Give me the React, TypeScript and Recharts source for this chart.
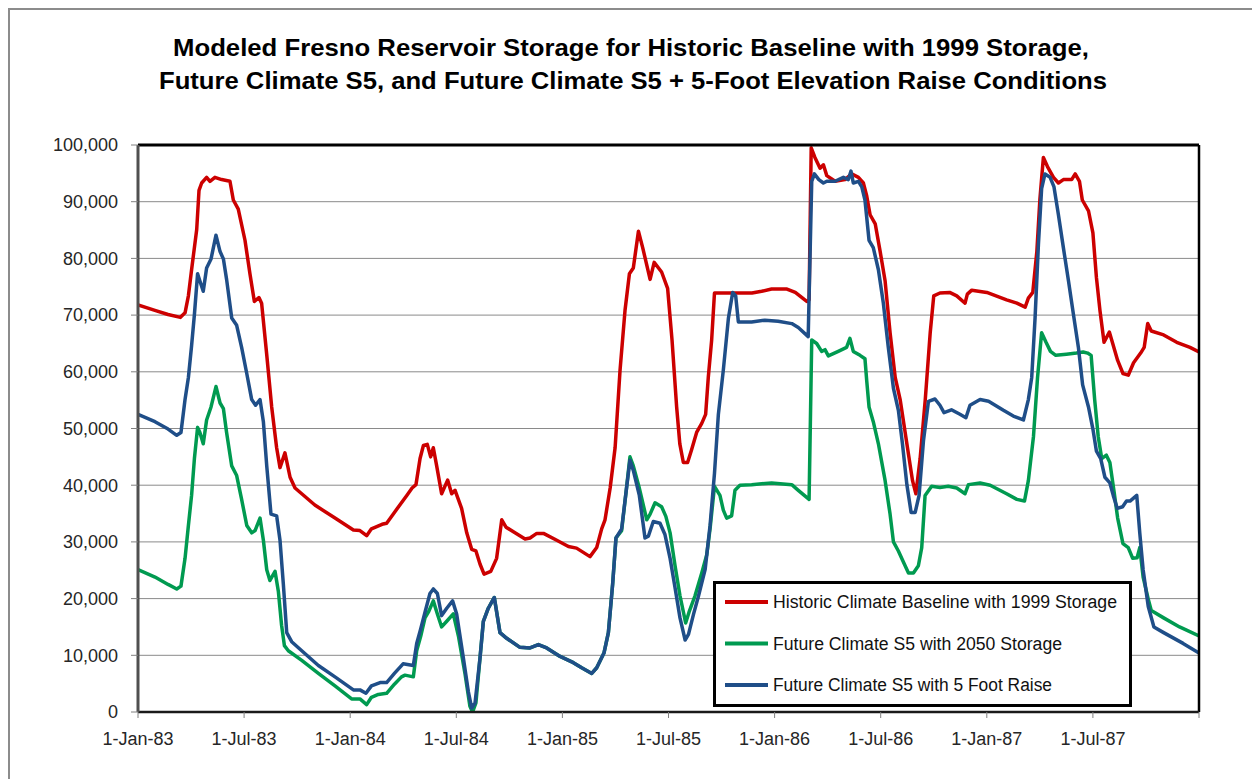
import React from 'react';
import { LineChart, Line, XAxis, YAxis, CartesianGrid, ReferenceLine, Legend } from 'recharts';

const FONT = '"Liberation Sans", Arial, Helvetica, sans-serif';

const titleLines = [
  'Modeled Fresno Reservoir Storage for Historic Baseline with 1999 Storage,',
  'Future Climate S5, and Future Climate S5 + 5-Foot Elevation Raise Conditions',
];

const seriesNames = [
  'Historic Climate Baseline with 1999 Storage',
  'Future Climate S5 with 2050 Storage',
  'Future Climate S5 with 5 Foot Raise',
];
const seriesColors = ['#CC0000', '#009A50', '#1F4E88'];

// x = months since 1-Jan-83
const xTickMonths = [0, 6, 12, 18, 24, 30, 36, 42, 48, 54, 60];
const xTickLabels = [
  '1-Jan-83', '1-Jul-83', '1-Jan-84', '1-Jul-84', '1-Jan-85', '1-Jul-85',
  '1-Jan-86', '1-Jul-86', '1-Jan-87', '1-Jul-87', '',
];
const yTicks = [0, 10000, 20000, 30000, 40000, 50000, 60000, 70000, 80000, 90000, 100000];

// [month since 1-Jan-83, storage in thousand acre-feet]
const historicBaseline: [number, number][] = [
  [0, 71.8], [1, 70.8], [1.7, 70.1], [2.4, 69.6], [2.66, 70.4], [2.85, 73.4], [3.03, 78], [3.32, 85.1],
  [3.45, 92], [3.6, 93.3], [3.88, 94.3], [4.07, 93.6], [4.35, 94.3], [4.73, 93.9], [5.2, 93.6], [5.39, 90.3],
  [5.67, 88.7], [6.05, 83.2], [6.33, 77.3], [6.58, 72.4], [6.84, 73.1], [6.99, 72.1], [7.28, 63], [7.56, 53.8],
  [7.84, 46.6], [8.03, 43.1], [8.31, 45.7], [8.6, 41.4], [8.88, 39.5], [10.0, 36.5], [11.14, 34.2], [12.18, 32.1],
  [12.55, 32], [12.93, 31.1], [13.2, 32.3], [13.8, 33.1], [14.06, 33.3], [14.5, 35.2], [15.2, 38.2], [15.5, 39.5],
  [15.72, 40.1], [15.95, 44.7], [16.14, 47], [16.36, 47.2], [16.55, 45], [16.7, 46.6], [16.89, 43.4], [17.17, 38.5],
  [17.51, 40.9], [17.74, 38.5], [17.93, 39.1], [18.3, 35.9], [18.59, 31.6], [18.87, 28.7], [19.11, 28.4], [19.34, 26.1],
  [19.57, 24.3], [19.95, 24.8], [20.28, 27.1], [20.57, 33.9], [20.81, 32.6], [21.32, 31.6], [21.89, 30.5], [22.17, 30.7],
  [22.55, 31.5], [22.93, 31.5], [23.68, 30.3], [24.34, 29.2], [24.8, 28.9], [25.56, 27.4], [25.94, 29], [26.22, 32.3],
  [26.41, 33.9], [26.7, 39.5], [26.98, 46.6], [27.26, 60.3], [27.54, 70.8], [27.79, 77.3], [28.01, 78.3], [28.3, 84.8],
  [28.54, 81.9], [28.96, 76.3], [29.19, 79.3], [29.61, 77.6], [29.95, 74.7], [30.2, 65.6], [30.46, 53.8], [30.64, 47.3],
  [30.84, 44], [31.08, 44], [31.31, 46.3], [31.59, 49.3], [31.88, 50.9], [32.1, 52.5], [32.25, 59], [32.44, 65.6],
  [32.6, 73.9], [33.57, 73.9], [34.72, 73.9], [35.27, 74.2], [35.83, 74.6], [36.7, 74.6], [37.17, 74], [37.82, 72.4],
  [37.95, 72.7], [38.07, 99.5], [38.28, 97.8], [38.57, 95.9], [38.76, 96.5], [38.95, 94.6], [39.42, 93.6], [39.98, 93.9],
  [40.36, 94.9], [40.74, 94.3], [41.02, 93.3], [41.21, 91], [41.4, 87.7], [41.69, 86.1], [41.97, 81.2], [42.25, 76],
  [42.53, 66.9], [42.82, 59], [43.1, 55.1], [43.48, 47.3], [43.8, 40.8], [43.99, 38.5], [44.23, 44.7], [44.52, 55.1],
  [44.8, 66.9], [45.0, 73.4], [45.35, 73.9], [45.9, 74], [46.3, 73.4], [46.77, 72.1], [46.9, 73.7], [47.15, 74.4],
  [48, 74], [49.12, 72.7], [49.7, 72.1], [50.17, 71.4], [50.35, 73], [50.6, 74], [50.83, 81.2], [51.0, 90.3],
  [51.2, 97.8], [51.43, 96.2], [51.77, 94.3], [52.05, 93.3], [52.33, 93.9], [52.8, 93.9], [53.0, 94.9], [53.24, 93.6],
  [53.4, 90.3], [53.75, 88.4], [54.0, 84.5], [54.2, 76.6], [54.4, 70.8], [54.63, 65.2], [54.93, 67], [55.1, 65.2],
  [55.4, 62], [55.7, 59.7], [56.0, 59.4], [56.3, 61.6], [56.7, 63.3], [56.9, 64.3], [57.1, 68.5], [57.3, 67.2],
  [58.0, 66.5], [58.74, 65.2], [59.49, 64.3], [60, 63.5],
];

const futureS5Storage2050: [number, number][] = [
  [0, 25.1], [0.96, 23.8], [1.7, 22.5], [2.19, 21.7], [2.43, 22.2], [2.66, 27.1], [2.85, 32.9], [3.03, 38.2],
  [3.19, 44.7], [3.37, 50.2], [3.5, 49.3], [3.69, 47.3], [3.88, 51.5], [4.13, 53.8], [4.41, 57.4], [4.64, 54.5],
  [4.83, 53.5], [5.01, 49.3], [5.3, 43.4], [5.58, 41.7], [5.86, 37.5], [6.15, 32.9], [6.43, 31.6], [6.62, 32],
  [6.9, 34.2], [7.09, 30.3], [7.28, 25.1], [7.46, 23.2], [7.75, 24.8], [7.94, 21.2], [8.12, 15.3], [8.28, 11.7],
  [8.5, 10.8], [9.26, 9.1], [10.2, 6.8], [11.14, 4.6], [12.08, 2.3], [12.55, 2.3], [12.93, 1.3], [13.2, 2.6],
  [13.59, 3.1], [14.06, 3.3], [14.5, 4.9], [14.9, 6.2], [15.1, 6.5], [15.57, 6.2], [15.76, 10.8], [15.99, 13.4],
  [16.23, 16.6], [16.42, 17.6], [16.7, 19.6], [16.93, 17.3], [17.17, 15], [17.46, 16], [17.83, 17.3], [18.12, 13.4],
  [18.49, 6.8], [18.77, 1.0], [18.92, 0], [19.11, 1.6], [19.34, 9.5], [19.53, 16], [19.81, 18.3], [20.15, 20.2],
  [20.47, 14], [20.85, 13], [21.6, 11.4], [22.17, 11.3], [22.64, 11.9], [23.11, 11.3], [23.87, 9.8], [24.62, 8.7],
  [25.09, 7.8], [25.66, 6.8], [25.94, 7.8], [26.35, 10.4], [26.6, 14], [26.84, 22.5], [27.03, 30.7], [27.35, 32],
  [27.6, 38.8], [27.82, 45], [28.01, 43.4], [28.35, 39.5], [28.77, 33.9], [28.96, 34.9], [29.24, 36.9], [29.61, 36.2],
  [29.85, 34.5], [30.09, 31.6], [30.37, 25.8], [30.65, 20.5], [30.97, 15.7], [31.16, 17.6], [31.5, 20.5], [31.88, 24.5],
  [32.16, 27.7], [32.35, 32.3], [32.6, 39.8], [32.91, 38.2], [33.1, 35.6], [33.29, 34.2], [33.57, 34.6], [33.76, 39.1],
  [34.04, 40], [34.7, 40.1], [35.83, 40.4], [36.97, 40.1], [37.34, 39.1], [37.95, 37.5], [38.1, 65.6], [38.38, 65],
  [38.66, 63.6], [38.85, 63.9], [39.04, 62.8], [39.6, 63.6], [40.07, 64.3], [40.26, 65.9], [40.45, 63.6], [40.83, 62.9],
  [41.11, 62.3], [41.21, 58.4], [41.34, 53.8], [41.58, 51.2], [41.87, 47.3], [42.25, 40.8], [42.53, 34.9], [42.72, 30],
  [43, 28.4], [43.29, 26.4], [43.57, 24.5], [43.85, 24.5], [44.13, 25.8], [44.32, 29], [44.51, 38.2], [44.88, 39.8],
  [45.35, 39.6], [45.82, 39.8], [46.3, 39.5], [46.77, 38.5], [46.96, 40.1], [47.62, 40.4], [48.19, 40], [49.12, 38.5],
  [49.7, 37.5], [50.13, 37.2], [50.35, 40.8], [50.64, 48.6], [50.87, 59], [51.1, 66.9], [51.35, 65.2], [51.6, 63.6],
  [51.9, 62.9], [52.5, 63.1], [53.07, 63.3], [53.45, 63.5], [53.7, 63.3], [53.9, 62.9], [54.1, 55.1], [54.3, 48.6],
  [54.5, 44.7], [54.76, 45.3], [54.96, 44], [55.2, 38.8], [55.4, 34.2], [55.7, 29.7], [56.0, 29], [56.25, 27.1],
  [56.5, 27.2], [56.65, 29], [56.84, 23.8], [57.13, 19.9], [57.3, 17.9], [58.0, 16.6], [58.9, 15], [60, 13.4],
];

const futureS5FootRaise: [number, number][] = [
  [0, 52.5], [0.96, 51.2], [1.7, 49.9], [2.19, 48.8], [2.43, 49.3], [2.66, 55.1], [2.85, 59], [3.03, 64.6],
  [3.19, 70.1], [3.37, 77.3], [3.5, 76], [3.69, 74.2], [3.88, 78.3], [4.13, 79.9], [4.41, 84.1], [4.64, 81.2],
  [4.83, 79.9], [5.01, 76.3], [5.3, 69.5], [5.58, 68.2], [5.86, 64.3], [6.15, 59.7], [6.43, 55.1], [6.65, 54.1],
  [6.9, 55.1], [7.09, 51.2], [7.28, 43.4], [7.52, 34.9], [7.84, 34.6], [8.03, 30.3], [8.22, 22.5], [8.41, 14],
  [8.69, 12.4], [9.26, 10.8], [10.2, 8.2], [11.14, 6.2], [12.18, 3.9], [12.55, 3.9], [12.89, 3.3], [13.2, 4.6],
  [13.69, 5.2], [14.06, 5.2], [14.5, 6.8], [14.99, 8.5], [15.57, 8.2], [15.76, 12.1], [15.99, 14.7], [16.23, 17.6],
  [16.51, 20.9], [16.7, 21.7], [16.93, 20.9], [17.17, 17], [17.46, 18.3], [17.79, 19.6], [18.02, 17.3], [18.4, 9.5],
  [18.68, 3.6], [18.87, 0.7], [19.06, 1.6], [19.34, 9.5], [19.53, 16], [19.81, 18.3], [20.15, 20.2], [20.47, 14],
  [20.85, 13], [21.6, 11.4], [22.17, 11.3], [22.64, 11.9], [23.11, 11.3], [23.87, 9.8], [24.62, 8.7], [25.09, 7.8],
  [25.66, 6.8], [25.94, 7.8], [26.35, 10.4], [26.6, 14], [26.84, 22.5], [27.03, 30.7], [27.35, 32.3], [27.6, 38.8],
  [27.82, 44.4], [28.01, 42.6], [28.35, 38.2], [28.67, 30.7], [28.86, 31], [29.14, 33.6], [29.52, 33.3], [29.8, 31.3],
  [30.09, 27.1], [30.37, 21.9], [30.65, 16.6], [30.94, 12.7], [31.13, 13.7], [31.42, 17.3], [31.7, 20.5], [32.07, 25.1],
  [32.35, 32.9], [32.6, 42.1], [32.82, 52.5], [33.1, 60.3], [33.39, 69.5], [33.63, 74], [33.8, 73.4], [33.95, 68.8],
  [34.7, 68.8], [35.45, 69.1], [36.2, 68.9], [36.97, 68.5], [37.34, 67.8], [37.9, 66.2], [38.1, 93.6], [38.25, 94.9],
  [38.5, 93.9], [38.76, 93.3], [38.95, 93.6], [39.42, 93.6], [39.89, 94.3], [40.17, 93.9], [40.32, 95.4], [40.45, 93.3],
  [40.74, 93.6], [40.93, 92.6], [41.11, 90.3], [41.34, 83.2], [41.58, 81.9], [41.87, 78], [42.15, 72.1], [42.43, 64.3],
  [42.72, 57.1], [43, 53.2], [43.23, 47.3], [43.48, 40.1], [43.72, 35.2], [43.95, 35.2], [44.17, 38.2], [44.42, 47.9],
  [44.7, 54.8], [45.07, 55.2], [45.35, 54.1], [45.58, 52.8], [46.0, 53.3], [46.48, 52.5], [46.82, 51.9], [47.05, 54.1],
  [47.62, 55.1], [48.1, 54.8], [48.94, 53.2], [49.5, 52.2], [50.07, 51.5], [50.35, 55.1], [50.54, 59], [50.73, 69.5],
  [50.92, 82.5], [51.1, 92.3], [51.29, 94.9], [51.58, 94.3], [51.8, 92.6], [52.05, 87.7], [52.33, 81.9], [52.62, 76],
  [52.9, 70.1], [53.18, 64.3], [53.42, 57.7], [53.75, 53.8], [54.0, 49.9], [54.2, 46], [54.44, 44.7], [54.68, 41.4],
  [54.96, 40.4], [55.15, 38.2], [55.38, 35.9], [55.68, 36.2], [55.9, 37.2], [56.1, 37.2], [56.48, 38.2], [56.65, 31.6],
  [56.84, 25.1], [57.13, 18.6], [57.45, 15], [58.0, 14], [59.1, 12.1], [60, 10.4],
];

const toPoints = (s: [number, number][]) => s.map(([m, v]) => ({ month: m, storage: Math.round(v * 1000) }));
const seriesData = [toPoints(historicBaseline), toPoints(futureS5Storage2050), toPoints(futureS5FootRaise)];

const legendTextWidths = [344, 289, 279];

function LegendBox(props: any) {
  const payload: any[] = props.payload || [];
  return (
    <div style={{ width: 419, height: 126, boxSizing: 'border-box', border: '3px solid #000', background: '#fff' }}>
      <svg width={413} height={120} style={{ display: 'block' }}>
        {seriesNames.map((name, i) => {
          const entry = payload.find((p) => p.value === name);
          const color = entry ? entry.color : seriesColors[i];
          const y = 18 + i * 41.5;
          return (
            <g key={name}>
              <line x1={9} x2={52} y1={y} y2={y} stroke={color} strokeWidth={4} />
              <text x={57} y={y + 6} fontSize={18} fontFamily={FONT} fill="#111"
                textLength={legendTextWidths[i]} lengthAdjust="spacingAndGlyphs">{name}</text>
            </g>
          );
        })}
      </svg>
    </div>
  );
}

const formatY = (v: number) => v.toLocaleString('en-US');
const formatX = (v: number) => {
  const i = xTickMonths.indexOf(v);
  return i >= 0 ? xTickLabels[i] : '';
};

export default function App() {
  return (
    <div style={{ position: 'relative', width: 1248, height: 771, borderTop: '2px solid #8c8c8c', borderLeft: '2px solid #8c8c8c', borderRight: '2px solid #8c8c8c', background: '#fff', fontFamily: FONT }}>
      <svg width={1248} height={110} style={{ position: 'absolute', left: 0, top: 0 }}>
        <text x={621} y={46} textAnchor="middle" fontSize={24} fontWeight="bold" fontFamily={FONT} fill="#000"
          textLength={916} lengthAdjust="spacingAndGlyphs">{titleLines[0]}</text>
        <text x={623} y={79} textAnchor="middle" fontSize={24} fontWeight="bold" fontFamily={FONT} fill="#000"
          textLength={948} lengthAdjust="spacingAndGlyphs">{titleLines[1]}</text>
      </svg>
      <div style={{ position: 'absolute', left: 0, top: 0 }}>
        <LineChart width={1248} height={769} margin={{ top: 135, right: 59, bottom: 27, left: 0 }}>
          <CartesianGrid vertical={false} stroke="#8a8a8a" strokeWidth={1} />
          <XAxis
            dataKey="month"
            type="number"
            domain={[0, 60]}
            ticks={xTickMonths}
            interval={0}
            allowDataOverflow
            tickFormatter={formatX}
            height={40}
            tickSize={6}
            tickMargin={14}
            axisLine={{ stroke: '#1a1a1a', strokeWidth: 2.5 }}
            tickLine={{ stroke: '#808080', strokeWidth: 1 }}
            tick={{ fontSize: 18, fill: '#262626', fontFamily: FONT }}
          />
          <YAxis
            type="number"
            domain={[0, 100000]}
            ticks={yTicks}
            interval={0}
            allowDataOverflow
            tickFormatter={formatY}
            width={128}
            tickSize={7}
            tickMargin={13}
            axisLine={{ stroke: '#505050', strokeWidth: 3 }}
            tickLine={{ stroke: '#808080', strokeWidth: 1 }}
            tick={{ fontSize: 18, fill: '#262626', fontFamily: FONT }}
          />
          {seriesData.map((d, i) => (
            <Line
              key={seriesNames[i]}
              data={d}
              dataKey="storage"
              name={seriesNames[i]}
              type="linear"
              stroke={seriesColors[i]}
              strokeWidth={3.5}
              strokeLinejoin="round"
              dot={false}
              activeDot={false}
              isAnimationActive={false}
            />
          ))}
          <ReferenceLine y={100000} stroke="#000" strokeWidth={3} ifOverflow="visible" />
          <ReferenceLine x={60} stroke="#000" strokeWidth={2.5} ifOverflow="visible" />
          <Legend
            layout="vertical"
            align="center"
            verticalAlign="middle"
            content={<LegendBox />}
            wrapperStyle={{ position: 'absolute', left: 703, top: 571, width: 419, height: 126 }}
          />
        </LineChart>
      </div>
    </div>
  );
}
